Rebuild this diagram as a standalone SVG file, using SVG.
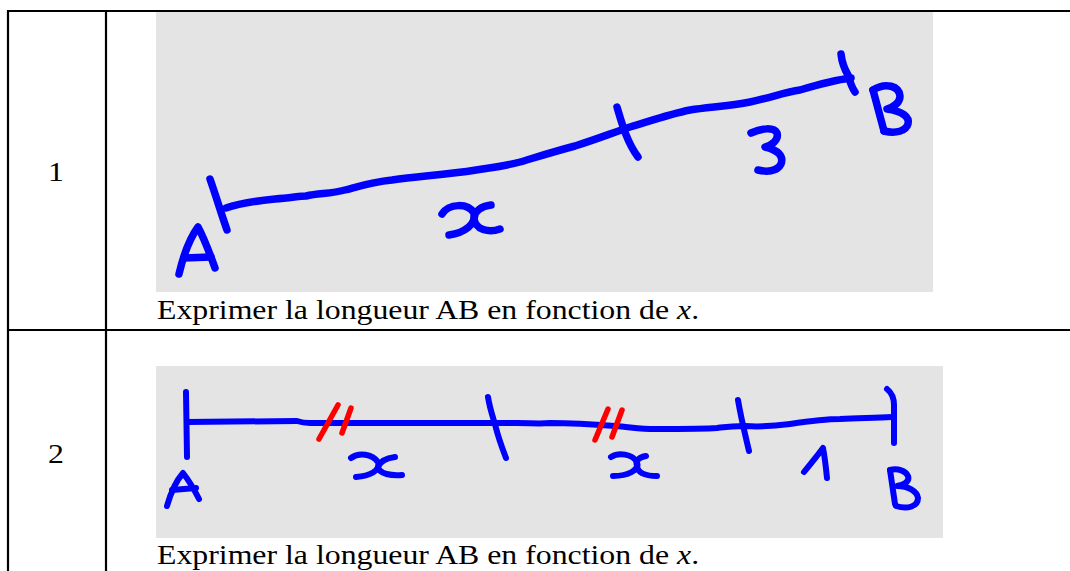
<svg xmlns="http://www.w3.org/2000/svg" width="1070" height="571" viewBox="0 0 1070 571">
<style>
.grid{stroke:#000;stroke-width:2.2;fill:none}
.panel{fill:#E4E4E4}
.ink{fill:none;stroke:#0000FF;stroke-linecap:round;stroke-linejoin:round}
.w7{stroke-width:7.5}
.w5{stroke-width:6}
.red{fill:none;stroke:#FF0000;stroke-width:5.5;stroke-linecap:round}
.txt{font-family:"Liberation Serif","Times New Roman",serif;font-size:26.5px;fill:#000}
</style>
<rect width="1070" height="571" fill="#fff"/>
<g id="table">
<line class="grid" x1="7" y1="11" x2="1070" y2="11"/>
<line class="grid" x1="7" y1="330" x2="1070" y2="330"/>
<line class="grid" x1="8" y1="10" x2="8" y2="571"/>
<line class="grid" x1="106" y1="10" x2="106" y2="571"/>
</g>
<g id="row1-number" transform="translate(56,181) scale(1.2,1)"><text class="txt" x="0" y="0" text-anchor="middle">1</text></g>
<g id="row2-number" transform="translate(56,463) scale(1.2,1)"><text class="txt" x="0" y="0" text-anchor="middle">2</text></g>
<g id="figure1">
<rect class="panel" x="156" y="12" width="777" height="280"/>
<g class="ink w7">
<path d="M226,208 C240,203 255,201 275,199 C290,198 300,196 306,196 C320,193 330,194 345,190 C360,186 372,182 392,180 C420,176 445,175 476,170 C495,167 505,166 520,162 C540,156 556,151 575,146 C600,138 612,133 630,127 C650,121 670,114 690,110 C710,107 730,106 750,102 C770,98 785,92 800,90 C820,84 835,80 851,78"/>
<path d="M210,179 C216,196 221,213 227,230"/>
<path d="M617,107 C622,124 627,142 638,157"/>
<path d="M841,54 C842,63 845,70 848,75 C850,82 852,88 855,92"/>
<path d="M179,274 C183,257 190,238 198,227 C205,240 210,254 215,268"/>
<path d="M184,258 L211,257"/>
<path d="M442,214 C449,203 468,203 474,213 C477,224 464,233 449,235"/>
<path d="M491,205 C481,206 474,212 474,218 C475,230 489,233 500,229"/>
<path d="M751,133 C762,128 774,127 777,133 C779,140 772,145 765,147 C778,150 784,156 781,164 C777,172 766,172 758,170"/>
<path d="M873,90 L884,131"/>
<path d="M873,90 C886,82 899,86 900,96 C900,104 893,107 887,109 C902,111 910,117 908,124 C906,131 896,134 884,131"/>
</g>
</g>
<g id="caption1" transform="translate(157,319) scale(1.2,1)"><text class="txt" x="0" y="0">Exprimer la longueur AB en fonction de <tspan font-style="italic">x</tspan>.</text></g>
<g id="figure2">
<rect class="panel" x="156" y="366" width="787" height="172"/>
<g class="ink w5">
<path d="M187,422 L297,421 C300,422 303,423 310,423 L517,423 C530,423 540,424 550,423 C570,423 590,424 615,426 C630,427 640,429 655,429 C680,429 705,429 717,428 C725,427 730,426 745,426 C760,427 775,426 790,424 C810,421 825,419 840,419 C860,418 875,418 892,417"/>
<path d="M186,392 L187,457"/>
<path d="M488,397 C490,410 494,420 496,428 C499,440 503,450 506,458"/>
<path d="M738,400 C741,418 745,434 749,451"/>
<path d="M887,389 C892,393 894,398 894,405 L894,443"/>
<path d="M167,506 C171,492 176,481 183,473 C190,482 195,491 199,499"/>
<path d="M172,490 L196,488"/>
<path d="M351,458 C359,452 372,454 378,462 C381,471 369,476 356,477"/>
<path d="M395,457 C386,458 380,462 378,467 C379,474 392,476 402,475"/>
<path d="M611,457 C619,452 632,454 637,462 C640,470 628,476 613,476"/>
<path d="M646,456 C640,457 635,460 637,466 C638,474 648,476 657,476"/>
<path d="M804,472 C812,462 818,455 823,448 C825,458 826,468 827,478"/>
<path d="M890,470 L895,504"/>
<path d="M890,470 C898,468 906,471 908,476 C910,482 903,485 897,486 C908,486 917,491 918,498 C918,506 908,510 896,506"/>
</g>
<g>
<path class="red" d="M319,439 L338,405"/>
<path class="red" d="M342,433 L351,408"/>
<path class="red" d="M595,440 L608,409"/>
<path class="red" d="M612,437 L622,410"/>
</g>
</g>
<g id="caption2" transform="translate(157,564) scale(1.2,1)"><text class="txt" x="0" y="0">Exprimer la longueur AB en fonction de <tspan font-style="italic">x</tspan>.</text></g>
</svg>
